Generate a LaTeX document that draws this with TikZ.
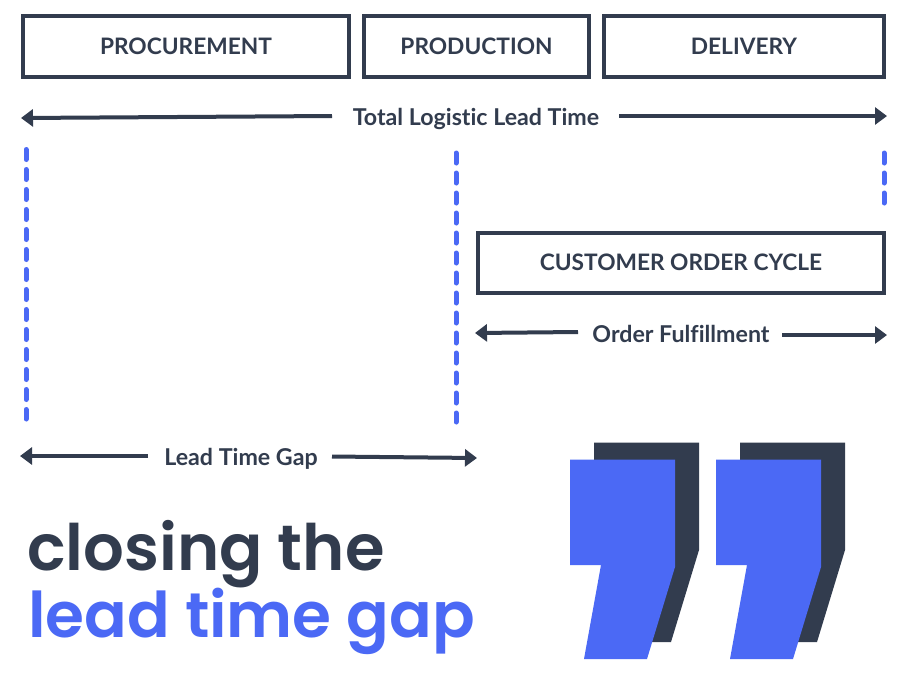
\documentclass[tikz,border=0pt]{standalone}
\usepackage{fontspec}
\setmainfont{Lato}[Ligatures=NoCommon]
\newfontfamily\titlefont{Poppins}[BoldFont={Poppins SemiBold}]
\usetikzlibrary{arrows.meta}
\definecolor{inkdark}{HTML}{323C4E}
\definecolor{inkblue}{HTML}{4B69F5}
\tikzset{
  stagebox/.style={draw=inkdark,line width=3.8pt,fill=white,inner sep=0pt,text=inkdark,font=\fontsize{22.7}{24}\selectfont\bfseries},
  spanlabel/.style={text=inkdark,inner sep=0pt,font=\fontsize{23.2}{24}\selectfont\bfseries},
  spanarrow/.style={draw=inkdark,line width=4pt,-{Triangle[length=12pt,width=17pt]}},
  guide/.style={draw=inkblue,line width=5pt,line cap=round,dash pattern=on 10pt off 10pt},
  headline/.style={anchor=base west,inner sep=0pt,text=inkdark,font=\titlefont\fontsize{64}{70}\selectfont\bfseries},
  headlineblue/.style={anchor=base west,inner sep=0pt,text=inkblue,font=\titlefont\fontsize{63}{70}\selectfont\bfseries},
  quotefront/.style={fill=inkblue},
  quoteback/.style={fill=inkdark}
}
\newcommand{\quotemark}[2]{%
  (#1+570,#2+459.5) -- (#1+675,#2+459.5) -- (#1+675,#2+567) -- (#1+647,#2+659) -- (#1+584,#2+659) -- (#1+601,#2+565) -- (#1+570,#2+565) -- cycle}
\begin{document}
\begin{tikzpicture}[x=1pt,y=-1pt]
\useasboundingbox[fill=white] (0,0) rectangle (900,673);
% stage boxes
\node[stagebox,minimum width=326pt,minimum height=61pt] (proc) at (186,46.5) {PROCUREMENT};
\node[stagebox,minimum width=225pt,minimum height=61pt] (prod) at (476.5,46.5) {PRODUCTION};
\node[stagebox,minimum width=280pt,minimum height=61pt] (deli) at (744,46.5) {DELIVERY};
\node[stagebox,minimum width=406pt,minimum height=60pt] (cust) at (681,263) {\raisebox{1pt}{CUSTOMER ORDER CYCLE}};
% span labels
\node[spanlabel] (total) at (476,118.5) {Total Logistic Lead Time};
\node[spanlabel] (order) at (681,333.5) {Order Fulfillment};
\node[spanlabel] (gap) at (241,459) {Lead Time Gap};
% free ends
\coordinate (t1) at (332,116); \coordinate (t2) at (21,118);
\coordinate (t3) at (619,116); \coordinate (t4) at (887,116);
\coordinate (o1) at (578,332); \coordinate (o2) at (475,333);
\coordinate (o3) at (782,335); \coordinate (o4) at (887,335);
\coordinate (g1) at (148,456); \coordinate (g2) at (20,456);
\coordinate (g3) at (332,456.5); \coordinate (g4) at (477,458);
\foreach \a/\b in {t1/t2,t3/t4,o1/o2,o3/o4,g1/g2,g3/g4} \draw[spanarrow] (\a) -- (\b);
% guides
\coordinate (d1a) at (26,149.5); \coordinate (d1b) at (26,419);
\coordinate (d2a) at (456,153); \coordinate (d2b) at (456,422);
\coordinate (d3a) at (884,153); \coordinate (d3b) at (884,204);
\draw[guide] (d1a) -- (d1b);
\draw[guide] (d2a) -- (d2b);
\draw[guide] (d3a) -- (d3b);
% headline
\node[headline] (h1) at (27,570) {closing the};
\node[headlineblue] (h2) at (28,637) {lead time gap};
% quote marks
\fill[quoteback] \quotemark{24}{-17};
\fill[quoteback] \quotemark{170}{-17};
\fill[quotefront] \quotemark{0}{0};
\fill[quotefront] \quotemark{146}{0};
\end{tikzpicture}
\end{document}
